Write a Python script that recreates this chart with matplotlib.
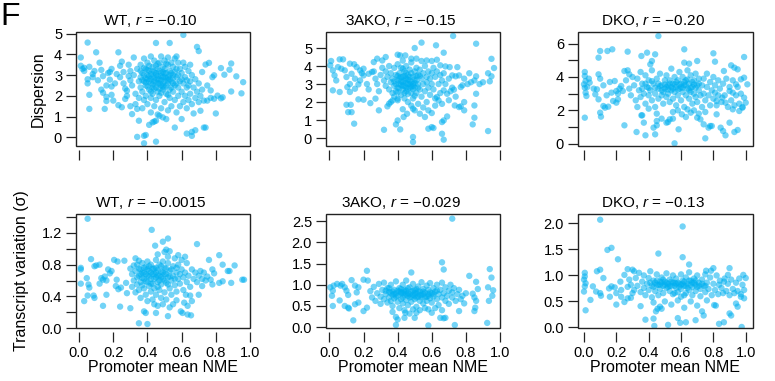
import numpy as np
import matplotlib
matplotlib.use("Agg")
import matplotlib.pyplot as plt
from matplotlib.patches import Rectangle

plt.rcParams['font.family'] = ['Liberation Sans', 'DejaVu Sans']
plt.rcParams['mathtext.fontset'] = 'custom'
plt.rcParams['mathtext.rm'] = 'Liberation Sans'
plt.rcParams['mathtext.it'] = 'Liberation Sans:italic'

# ---------------- data (x = promoter mean NME, y = value) ----------------
wt_disp = [
 (0.01,3.85),(0.01,3.45),(0.02,3.3),(0.03,3.2),(0.05,4.57),(0.06,3.4),(0.05,2.8),(0.05,2.6),(0.06,2.05),(0.06,1.37),
 (0.09,3.2),(0.08,3.05),(0.10,4.1),(0.11,2.75),(0.12,3.6),(0.13,3.25),(0.13,2.3),(0.14,2.15),(0.15,1.37),(0.16,1.75),
 (0.16,1.95),(0.16,2.5),(0.17,3.1),(0.18,2.78),(0.18,3.15),(0.19,2.45),(0.19,3.3),(0.20,1.77),(0.19,2.05),(0.21,2.6),
 (0.22,3.05),(0.23,4.1),(0.23,1.55),(0.14,2.95),(0.08,2.9),(0.03,3.35),
 (0.24,3.45),(0.25,3.65),(0.26,3.15),(0.24,2.9),(0.26,2.6),(0.27,2.35),(0.28,2.25),(0.25,1.45),(0.29,2.95),(0.29,3.5),
 (0.30,3.2),(0.30,2.75),(0.31,1.12),(0.31,2.5),(0.32,3.85),(0.32,3.0),(0.33,2.1),(0.33,1.6),(0.34,1.37),(0.34,0.02),
 (0.34,3.3),(0.35,0.8),(0.35,2.7),(0.35,1.9),(0.28,2.0),(0.27,1.85),(0.30,1.5),
 (0.36,3.5),(0.36,2.9),(0.36,2.4),(0.37,3.1),(0.37,2.2),(0.37,1.4),(0.38,3.8),(0.38,2.7),(0.38,1.8),(0.38,0.07),
 (0.38,-0.29),(0.39,3.3),(0.39,2.5),(0.39,2.0),(0.39,0.11),(0.40,3.0),(0.40,2.8),(0.40,1.6),(0.40,3.6),(0.41,2.3),
 (0.41,0.6),(0.41,3.2),(0.42,2.6),(0.42,1.9),(0.42,3.9),(0.42,1.2),(0.43,0.72),(0.43,2.9),(0.43,3.4),(0.43,2.1),
 (0.44,0.76),(0.44,2.7),(0.44,1.5),(0.44,3.7),(0.45,4.55),(0.45,0.8),(0.45,-0.21),(0.45,3.0),(0.45,2.4),(0.45,1.8),
 (0.46,3.3),(0.46,2.8),(0.46,2.2),(0.46,1.1),(0.47,1.04),(0.47,3.6),(0.47,2.6),(0.47,2.0),(0.48,3.1),(0.48,2.5),
 (0.48,1.4),(0.48,3.9),(0.49,0.96),(0.49,2.9),(0.49,2.3),(0.49,3.4),(0.50,3.7),(0.50,2.7),(0.50,1.7),(0.50,3.1),
 (0.51,0.88),(0.51,2.1),(0.51,2.5),(0.52,3.5),(0.52,2.9),(0.52,1.3),(0.52,3.85),(0.53,4.55),(0.53,2.3),(0.53,3.2),
 (0.53,1.9),(0.54,2.7),(0.54,3.6),(0.54,1.5),(0.55,3.0),(0.55,2.2),(0.55,3.4),(0.56,0.47),(0.56,2.5),(0.56,1.8),
 (0.56,3.8),(0.57,2.9),(0.57,1.2),(0.57,3.3),(0.58,2.4),(0.58,2.0),(0.58,3.6),(0.59,2.7),(0.59,1.5),(0.60,0.88),
 (0.60,3.1),(0.60,2.2),(0.61,4.94),(0.61,2.6),(0.61,1.7),(0.62,3.4),(0.62,2.0),(0.62,2.9),(0.63,0.18),(0.63,1.4),
 (0.63,2.4),(0.64,3.2),(0.64,1.8),(0.65,2.7),(0.65,2.1),(0.66,0.26),(0.66,0.07),(0.66,1.6),(0.66,3.0),(0.67,1.15),
 (0.67,2.4),(0.68,0.34),(0.68,1.9),(0.68,2.8),(0.69,4.36),(0.69,2.2),(0.70,4.16),(0.70,1.7),(0.70,2.6),(0.71,1.28),
 (0.71,2.0),(0.72,3.15),(0.72,2.3),(0.73,0.47),(0.73,1.77),(0.74,3.51),(0.74,0.47),(0.75,1.77),(0.75,2.5),(0.76,3.59),
 (0.77,1.9),(0.77,2.26),(0.78,2.9),(0.79,2.99),(0.79,1.86),(0.80,1.15),(0.81,2.01),(0.83,3.34),(0.83,1.88),(0.84,1.93),
 (0.85,3.02),(0.88,3.26),(0.89,3.56),(0.89,2.21),(0.92,2.94),(0.95,2.12),(0.96,2.66),
 (0.37,2.75),(0.39,2.85),(0.40,2.45),(0.41,2.7),(0.41,3.45),(0.42,3.05),(0.43,2.55),(0.44,3.15),(0.44,2.35),(0.45,2.65),
 (0.46,2.95),(0.46,3.55),(0.47,2.35),(0.47,3.2),(0.48,2.75),(0.49,2.6),(0.50,2.4),(0.50,3.3),(0.51,2.85),(0.51,3.55),
 (0.52,2.6),(0.53,2.8),(0.54,3.1),(0.54,2.4),(0.55,2.85),(0.57,2.6),(0.58,3.0),(0.60,2.8),(0.36,3.2),(0.38,3.35),
 (0.42,2.2),(0.48,2.15),(0.52,2.05),(0.56,3.15),(0.59,3.3),(0.63,2.75),(0.64,2.5),(0.61,3.6),(0.57,3.9),(0.65,3.5),
 (0.38,3.0),(0.39,2.65),(0.40,3.25),(0.41,2.95),(0.42,2.8),(0.43,3.2),(0.44,2.85),(0.45,3.1),(0.46,2.6),(0.47,2.8),
 (0.48,2.95),(0.49,3.15),(0.50,2.9),(0.51,3.1),(0.52,2.75),(0.53,3.0),(0.45,3.45),(0.43,2.4),(0.49,2.45),(0.55,2.6),
]

ako_disp = [
 (0.725,5.67),(0.54,5.3),(0.86,5.24),(0.50,5.0),(0.625,5.15),(0.67,4.74),(0.95,4.4),(0.965,3.89),(0.93,3.6),(0.95,3.43),
 (0.94,3.15),(0.86,3.43),(0.85,3.2),(0.83,3.1),(0.81,3.0),(0.86,2.46),(0.85,1.81),(0.85,1.13),(0.84,0.76),(0.93,0.39),
 (0.79,1.54),(0.77,1.76),(0.76,1.72),(0.79,2.0),(0.735,1.81),(0.69,1.2),(0.66,0.89),(0.67,0.98),(0.60,0.61),(0.61,0.56),
 (0.58,0.52),(0.66,0.24),(0.67,-0.09),(0.49,0.06),(0.49,-0.22),(0.32,0.46),(0.415,0.48),(0.39,0.76),(0.40,0.98),(0.435,1.17),
 (0.455,1.35),(0.49,1.63),(0.50,1.54),(0.53,1.35),(0.56,1.17),(0.58,1.54),(0.60,1.39),(0.29,1.54),(0.34,1.76),(0.35,1.91),
 (0.37,2.09),(0.40,2.19),(0.27,2.19),(0.24,1.94),(0.17,2.15),(0.20,2.13),(0.145,0.8),(0.11,1.44),(0.13,1.44),(0.10,1.85),
 (0.125,1.85),(0.06,2.56),(0.02,2.65),(0.105,2.83),(0.12,3.0),(0.12,2.56),(0.15,2.74),(0.17,2.98),(0.18,3.2),(0.01,4.28),
 (0.005,4.04),(0.02,3.76),(0.03,3.48),(0.04,3.2),(0.06,4.37),(0.08,4.37),(0.05,3.94),(0.07,3.85),(0.09,3.76),(0.12,4.13),
 (0.145,4.1),(0.16,3.94),(0.10,3.39),(0.13,3.57),(0.18,3.76),(0.20,3.85),(0.20,3.48),(0.23,3.57),(0.25,3.67),(0.26,4.22),
 (0.28,4.41),(0.31,4.31),(0.33,4.5),(0.40,4.63),(0.415,4.59),(0.445,4.59),(0.48,4.41),(0.51,4.41),(0.54,4.28),(0.57,4.31),
 (0.60,4.28),(0.63,4.35),(0.65,4.04),(0.68,3.98),(0.705,3.94),(0.75,3.94),(0.72,3.48),(0.74,3.43),(0.76,3.48),(0.77,2.83),
 (0.78,2.93),(0.72,2.8),(0.73,2.69),(0.67,2.65),(0.69,2.46),(0.63,2.28),(0.64,2.09),(0.66,3.2),
 (0.30,3.5),(0.31,3.9),(0.32,3.2),(0.33,3.7),(0.33,2.9),(0.34,3.4),(0.35,4.0),(0.35,2.7),(0.36,3.1),(0.36,3.6),
 (0.37,2.5),(0.37,3.3),(0.38,3.9),(0.38,2.9),(0.39,3.5),(0.39,2.6),(0.40,3.2),(0.40,4.1),(0.40,2.8),(0.41,3.6),
 (0.41,3.0),(0.42,2.4),(0.42,3.4),(0.42,3.9),(0.43,2.7),(0.43,3.1),(0.43,4.3),(0.44,3.7),(0.44,2.9),(0.44,2.2),
 (0.45,3.3),(0.45,2.6),(0.45,4.0),(0.46,3.5),(0.46,3.0),(0.46,2.0),(0.47,3.8),(0.47,2.8),(0.47,3.2),(0.48,3.6),
 (0.48,2.5),(0.48,4.2),(0.49,3.4),(0.49,3.0),(0.49,2.2),(0.50,3.7),(0.50,2.8),(0.51,3.2),(0.51,3.9),(0.51,2.5),
 (0.52,3.5),(0.52,3.0),(0.53,3.8),(0.53,2.7),(0.54,3.3),(0.54,2.3),(0.55,3.6),(0.55,3.0),(0.56,4.0),(0.56,2.6),
 (0.57,3.4),(0.57,3.1),(0.58,3.7),(0.58,2.8),(0.59,3.3),(0.59,2.4),(0.60,3.6),(0.60,3.0),(0.61,3.9),(0.61,2.7),
 (0.62,3.4),(0.62,2.2),(0.63,3.7),(0.64,3.0),(0.65,3.5),(0.65,2.5),(0.67,3.6),(0.68,3.0),(0.70,3.3),(0.71,2.6),
 (0.27,3.3),(0.28,3.0),(0.29,2.6),(0.26,3.7),(0.22,3.0),(0.23,2.7),(0.19,3.6),(0.15,3.3),(0.38,2.3),(0.40,2.1),
 (0.36,2.0),(0.52,1.9),(0.55,1.7),(0.48,1.8),(0.43,1.6),(0.57,2.0),(0.62,1.8),(0.66,1.9),(0.70,2.1),(0.74,2.3),
 (0.79,3.3),(0.82,3.6),(0.88,3.0),(0.90,3.1),(0.44,3.45),(0.47,3.0),(0.50,3.25),(0.53,3.45),(0.41,3.3),(0.45,2.8),
 (0.49,2.7),(0.38,3.15),(0.42,2.95),(0.46,2.45),(0.50,2.35),(0.43,3.85),(0.40,2.55),(0.44,2.5),
 (0.39,3.0),(0.41,2.75),(0.42,3.15),(0.43,2.9),(0.44,3.2),(0.45,3.05),(0.46,2.75),(0.47,3.4),(0.48,3.1),(0.49,2.9),
 (0.50,3.05),(0.51,3.45),(0.52,2.8),(0.43,3.4),(0.46,3.25),(0.40,3.45),(0.48,2.85),(0.45,3.6),
]

dko_disp = [
 (0.46,6.46),(0.10,5.56),(0.09,5.16),(0.145,5.56),(0.175,5.66),(0.27,5.52),(0.62,5.66),(0.80,5.42),(0.99,5.2),(0.39,5.46),
 (0.355,5.26),(0.44,5.36),(0.42,4.96),(0.41,4.76),(0.62,4.86),(0.65,4.8),(0.70,4.96),(0.81,4.92),(0.91,4.7),(0.93,4.56),
 (0.95,4.46),(0.865,4.36),(0.005,4.3),(0.005,4.06),(0.01,3.76),(0.0,3.56),(0.005,3.36),(0.01,3.06),(0.015,2.86),(0.035,3.66),
 (0.005,1.56),(0.09,4.16),(0.10,3.9),(0.08,3.26),(0.07,2.96),(0.09,2.66),(0.10,1.86),(0.105,1.62),(0.12,2.26),(0.13,2.16),
 (0.15,2.22),(0.16,3.7),(0.19,3.76),(0.17,3.06),(0.20,3.16),(0.21,2.66),(0.18,2.56),(0.20,2.46),(0.23,3.46),(0.24,3.16),
 (0.25,4.36),(0.27,4.4),(0.28,4.16),(0.25,1.1),(0.325,0.7),(0.38,0.5),(0.355,1.7),(0.37,1.26),(0.44,0.56),(0.43,0.96),
 (0.45,1.1),(0.45,1.36),(0.51,1.26),(0.53,1.46),(0.55,1.5),(0.56,0.02),(0.585,0.86),(0.605,1.76),(0.64,2.06),(0.66,1.86),
 (0.70,1.56),(0.72,1.46),(0.74,1.16),(0.77,0.96),(0.79,1.06),(0.75,0.32),(0.78,1.06),(0.845,0.96),(0.86,0.76),(0.875,0.5),
 (0.90,1.26),(0.93,0.7),(0.95,0.82),(0.82,1.76),(0.92,2.06),(0.96,1.96),(0.98,2.16),(0.99,2.76),(1.0,2.46),(1.01,3.56),
 (0.97,3.86),(0.99,3.96),(0.94,3.56),(0.90,3.16),(0.92,3.06),(0.855,2.76),(0.875,2.46),(0.81,3.06),(0.82,2.56),
 (0.26,3.8),(0.28,3.3),(0.29,2.9),(0.30,4.0),(0.31,3.5),(0.32,2.6),(0.33,3.9),(0.34,3.2),(0.35,4.3),(0.35,2.8),
 (0.36,3.6),(0.37,3.0),(0.38,4.1),(0.38,2.4),(0.39,3.4),(0.40,3.8),(0.40,2.9),(0.41,3.2),(0.42,4.4),(0.42,2.6),
 (0.43,3.6),(0.44,3.0),(0.44,2.2),(0.45,3.9),(0.46,3.3),(0.46,2.7),(0.47,4.2),(0.48,3.5),(0.48,2.9),(0.49,3.1),
 (0.49,2.4),(0.50,3.8),(0.50,3.3),(0.51,2.8),(0.51,4.1),(0.52,3.5),(0.52,3.0),(0.53,2.5),(0.53,3.8),(0.54,3.2),
 (0.54,4.5),(0.55,2.7),(0.55,3.6),(0.56,3.1),(0.56,4.0),(0.57,2.3),(0.57,3.4),(0.58,3.8),(0.58,2.9),(0.59,3.3),
 (0.59,4.3),(0.60,3.6),(0.60,2.6),(0.61,3.1),(0.61,4.0),(0.62,3.5),(0.62,2.2),(0.63,3.8),(0.63,2.9),(0.64,3.3),
 (0.64,4.4),(0.65,2.7),(0.65,3.6),(0.66,3.1),(0.66,4.1),(0.67,3.4),(0.67,2.4),(0.68,3.8),(0.68,3.0),(0.69,2.8),
 (0.69,4.2),(0.70,3.5),(0.70,2.5),(0.71,3.2),(0.71,3.9),(0.72,2.9),(0.73,3.5),(0.73,2.2),(0.74,3.9),(0.74,3.0),
 (0.75,2.6),(0.76,3.4),(0.76,4.2),(0.77,2.9),(0.78,3.7),(0.78,2.3),(0.79,3.2),(0.80,2.7),(0.80,4.0),(0.81,3.5),
 (0.82,2.3),(0.83,3.8),(0.83,2.9),(0.84,3.3),(0.85,2.5),(0.86,3.6),(0.87,2.9),(0.88,3.9),(0.89,2.2),(0.90,3.4),
 (0.91,2.6),(0.92,3.8),(0.93,2.3),(0.94,2.9),(0.95,3.4),(0.96,2.4),(0.97,3.0),(0.98,2.2),(0.22,3.3),(0.21,3.0),
 (0.14,2.9),(0.12,3.5),(0.06,3.3),(0.03,3.9),(0.02,3.4),(0.52,1.3),(0.48,1.5),(0.45,1.8),(0.40,2.1),(0.33,2.2),
 (0.36,1.7),(0.55,1.9),(0.58,2.0),(0.63,1.6),(0.68,2.0),(0.71,1.8),(0.75,1.9),(0.54,3.4),(0.56,3.55),(0.58,3.25),
 (0.60,3.4),(0.62,3.7),(0.50,3.55),(0.52,3.25),(0.46,3.6),(0.44,3.35),(0.66,3.35),(0.68,3.55),(0.64,3.85),(0.48,3.2),
 (0.36,3.3),(0.38,3.6),(0.40,3.35),(0.42,3.75),(0.53,3.6),(0.57,3.7),(0.59,3.55),(0.61,3.35),(0.63,3.5),(0.65,3.2),
 (0.67,3.7),(0.69,3.35),(0.71,3.6),(0.55,3.3),(0.51,3.4),(0.47,3.45),
]

wt_sigma = [
 (0.05,1.38),(0.425,1.24),(0.52,1.13),(0.49,1.09),(0.445,1.04),(0.51,0.99),(0.53,0.97),(0.69,1.06),(0.82,0.92),(0.91,0.79),
 (0.84,0.80),(0.88,0.72),(0.87,0.72),(0.965,0.61),(0.955,0.61),(0.76,0.86),(0.78,0.74),(0.79,0.69),(0.75,0.65),(0.77,0.61),
 (0.78,0.55),(0.82,0.57),(0.84,0.59),(0.89,0.57),(0.72,0.53),(0.70,0.42),(0.625,0.42),(0.65,0.41),(0.66,0.34),(0.615,0.32),
 (0.635,0.28),(0.595,0.21),(0.605,0.19),(0.635,0.17),(0.655,0.16),(0.52,0.15),(0.45,0.19),(0.46,0.28),(0.38,0.21),(0.39,0.19),
 (0.35,0.06),(0.40,0.05),(0.30,0.25),(0.24,0.27),(0.14,0.28),(0.09,0.38),(0.085,0.41),(0.05,0.41),(0.03,0.34),(0.01,0.74),
 (0.01,0.76),(0.01,0.56),(0.045,0.63),(0.055,0.55),(0.06,0.51),(0.07,0.87),(0.09,0.78),(0.10,0.79),(0.12,0.80),(0.13,0.63),
 (0.14,0.61),(0.12,0.56),(0.15,0.65),(0.16,0.60),(0.17,0.74),(0.18,0.69),(0.19,0.72),(0.16,0.42),(0.205,0.86),(0.225,0.84),
 (0.215,0.53),(0.23,0.49),(0.245,0.51),(0.22,0.61),(0.265,0.85),(0.275,0.57),(0.28,0.44),(0.33,0.88),(0.35,0.85),
 (0.30,0.75),(0.31,0.68),(0.31,0.52),(0.32,0.79),(0.32,0.60),(0.33,0.72),(0.33,0.45),(0.34,0.55),(0.34,0.80),(0.35,0.66),
 (0.35,0.48),(0.36,0.74),(0.36,0.38),(0.36,0.58),(0.37,0.82),(0.37,0.63),(0.38,0.50),(0.38,0.70),(0.39,0.77),(0.39,0.42),
 (0.39,0.59),(0.40,0.66),(0.40,0.84),(0.40,0.34),(0.41,0.53),(0.41,0.72),(0.42,0.62),(0.42,0.46),(0.42,0.80),(0.43,0.68),
 (0.43,0.36),(0.43,0.56),(0.44,0.75),(0.44,0.50),(0.45,0.64),(0.45,0.86),(0.45,0.42),(0.46,0.58),(0.46,0.73),(0.47,0.48),
 (0.47,0.80),(0.47,0.66),(0.48,0.55),(0.48,0.38),(0.48,0.71),(0.49,0.62),(0.49,0.84),(0.50,0.45),(0.50,0.68),(0.50,0.76),
 (0.51,0.57),(0.51,0.36),(0.52,0.64),(0.52,0.82),(0.53,0.50),(0.53,0.72),(0.54,0.60),(0.54,0.42),(0.55,0.78),(0.55,0.66),
 (0.56,0.54),(0.56,0.88),(0.57,0.70),(0.57,0.46),(0.58,0.62),(0.58,0.80),(0.59,0.56),(0.60,0.74),(0.60,0.86),(0.61,0.64),
 (0.61,0.48),(0.62,0.70),(0.63,0.58),(0.63,0.82),(0.64,0.66),(0.65,0.52),(0.66,0.74),(0.67,0.62),(0.68,0.70),(0.69,0.58),
 (0.70,0.66),(0.71,0.72),(0.72,0.62),(0.73,0.70),(0.74,0.60),(0.55,0.30),(0.53,0.26),(0.49,0.30),(0.57,0.35),(0.44,0.30),
 (0.46,0.93),(0.50,0.96),(0.52,0.90),(0.58,0.92),(0.62,0.90),(0.35,0.75),(0.37,0.70),(0.41,0.65),(0.43,0.75),(0.45,0.70),
 (0.47,0.60),(0.49,0.70),(0.51,0.75),(0.53,0.65),(0.38,0.62),(0.44,0.62),(0.46,0.66),(0.52,0.55),(0.40,0.74),(0.34,0.64),
 (0.56,0.62),(0.59,0.68),(0.48,0.78),
 (0.36,0.68),(0.38,0.76),(0.39,0.68),(0.41,0.78),(0.42,0.70),(0.44,0.68),(0.45,0.76),(0.46,0.52),(0.48,0.64),(0.50,0.60),
 (0.51,0.68),(0.54,0.74),(0.57,0.76),(0.42,0.56),(0.40,0.58),(0.37,0.54),
]

ako_sigma = [
 (0.72,2.56),(0.66,1.53),(0.67,1.36),(0.22,1.33),(0.48,1.29),(0.82,1.21),(0.94,1.37),(0.95,1.17),(0.86,1.07),(0.87,0.90),
 (0.93,0.94),(0.96,0.87),(0.955,0.74),(0.935,0.62),(0.925,0.10),(0.84,0.79),(0.85,0.70),(0.86,0.62),(0.855,0.46),(0.85,0.38),
 (0.76,0.38),(0.735,0.05),(0.58,0.04),(0.39,0.05),(0.39,0.24),(0.40,0.18),(0.445,0.34),(0.44,0.22),(0.50,0.22),(0.51,0.34),
 (0.65,0.22),(0.67,0.21),(0.68,0.22),(0.60,0.34),(0.58,0.42),(0.14,0.16),(0.20,0.38),(0.22,0.46),(0.15,0.54),(0.17,0.58),
 (0.09,0.5),(0.11,0.46),(0.115,0.44),(0.06,0.63),(0.02,0.5),(0.015,0.74),(0.02,0.86),(0.005,0.94),(0.025,0.98),(0.045,1.02),
 (0.065,0.98),(0.075,1.02),(0.09,0.94),(0.10,0.86),(0.11,0.76),(0.13,1.11),(0.15,0.98),(0.17,0.94),(0.16,0.82),(0.20,1.12),
 (0.225,1.10),
 (0.24,0.85),(0.25,0.70),(0.26,0.95),(0.27,0.62),(0.28,0.80),(0.29,1.02),(0.30,0.72),(0.30,0.55),(0.31,0.88),(0.32,0.66),
 (0.32,1.05),(0.33,0.78),(0.34,0.58),(0.34,0.92),(0.35,0.70),(0.35,0.83),(0.36,1.00),(0.36,0.62),(0.37,0.76),(0.37,0.50),
 (0.38,0.88),(0.38,0.68),(0.39,0.80),(0.39,1.08),(0.40,0.60),(0.40,0.74),(0.41,0.92),(0.41,0.45),(0.42,0.82),(0.42,0.66),
 (0.43,1.00),(0.43,0.56),(0.44,0.76),(0.44,0.88),(0.45,0.64),(0.45,1.10),(0.46,0.80),(0.46,0.52),(0.47,0.94),(0.47,0.70),
 (0.48,0.84),(0.48,0.60),(0.49,0.76),(0.49,1.02),(0.50,0.66),(0.50,0.88),(0.51,0.48),(0.51,0.80),(0.52,0.72),(0.52,0.96),
 (0.53,0.62),(0.53,0.84),(0.54,0.76),(0.54,1.06),(0.55,0.56),(0.55,0.90),(0.56,0.70),(0.56,0.82),(0.57,0.98),(0.57,0.62),
 (0.58,0.78),(0.58,0.88),(0.59,0.68),(0.59,1.04),(0.60,0.80),(0.60,0.58),(0.61,0.92),(0.61,0.72),(0.62,0.84),(0.63,0.66),
 (0.63,1.00),(0.64,0.78),(0.64,0.52),(0.65,0.88),(0.66,0.70),(0.66,1.05),(0.67,0.80),(0.68,0.62),(0.68,0.94),(0.69,0.74),
 (0.70,0.86),(0.70,0.55),(0.71,1.00),(0.72,0.70),(0.72,0.82),(0.73,0.92),(0.74,0.62),(0.75,0.78),(0.76,0.88),(0.77,0.66),
 (0.78,0.74),(0.79,0.56),(0.80,0.80),(0.44,0.40),(0.47,0.32),(0.49,0.42),(0.53,0.40),(0.37,0.36),(0.56,0.45),(0.62,0.45),
 (0.66,0.40),(0.42,0.80),(0.46,0.74),(0.50,0.80),(0.52,0.84),(0.48,0.72),(0.44,0.84),(0.40,0.86),(0.54,0.70),(0.58,0.74),
 (0.36,0.80),(0.45,0.78),(0.51,0.90),(0.43,0.70),(0.55,0.78),
 (0.33,0.86),(0.35,0.92),(0.37,0.84),(0.39,0.72),(0.41,0.84),(0.43,0.80),(0.45,0.86),(0.47,0.78),(0.49,0.86),(0.51,0.70),
 (0.53,0.76),(0.55,0.84),(0.57,0.72),(0.59,0.82),(0.61,0.78),(0.63,0.86),(0.46,0.92),(0.42,0.90),(0.38,0.78),(0.50,0.74),
]

dko_sigma = [
 (0.10,2.07),(0.61,1.94),(0.145,1.49),(0.17,1.53),(0.21,1.31),(0.46,1.42),(0.61,1.35),(0.65,1.21),(0.005,1.05),(0.005,0.98),
 (0.0,0.92),(0.01,0.85),(0.005,0.79),(0.0,0.69),(0.01,0.33),(0.04,0.53),(0.08,1.08),(0.10,1.11),(0.12,0.95),(0.075,0.69),
 (0.10,0.66),(0.105,0.61),(0.055,0.79),(0.155,0.75),(0.17,0.79),(0.19,0.77),(0.16,0.59),(0.20,0.44),(0.23,0.59),(0.25,0.49),
 (0.225,0.88),(0.25,1.01),(0.27,1.12),(0.30,1.11),(0.31,1.08),(0.29,0.82),(0.31,0.72),(0.27,0.56),(0.29,0.57),(0.35,0.41),
 (0.38,0.15),(0.43,0.17),(0.435,0.03),(0.445,0.31),(0.455,0.36),(0.48,0.36),(0.52,0.05),(0.58,0.18),(0.595,0.09),(0.62,0.38),
 (0.63,0.10),(0.69,0.14),(0.73,0.31),(0.74,0.23),(0.805,0.43),(0.815,0.42),(0.835,0.07),(0.865,0.10),(0.90,0.27),(0.91,0.23),
 (0.95,0.40),(0.94,0.46),(0.975,0.01),(0.97,0.59),(0.99,0.56),(0.99,0.72),(1.0,0.95),(0.985,1.01),(0.90,1.14),(0.89,1.01),
 (0.80,1.14),(0.785,1.09),(0.755,1.09),(0.835,0.82),(0.865,0.88),(0.56,0.66),(0.60,0.59),(0.62,0.62),
 (0.32,0.95),(0.33,0.80),(0.34,1.05),(0.35,0.68),(0.36,0.88),(0.37,0.76),(0.37,1.00),(0.38,0.62),(0.39,0.84),(0.40,0.95),
 (0.40,0.72),(0.41,1.08),(0.42,0.80),(0.42,0.58),(0.43,0.90),(0.44,0.70),(0.45,0.82),(0.45,1.02),(0.46,0.62),(0.47,0.88),
 (0.47,0.74),(0.48,0.96),(0.49,0.80),(0.49,0.66),(0.50,0.88),(0.51,0.76),(0.51,1.04),(0.52,0.84),(0.53,0.70),(0.53,0.92),
 (0.54,0.80),(0.55,1.00),(0.55,0.64),(0.56,0.86),(0.57,0.76),(0.57,0.94),(0.58,0.68),(0.59,0.84),(0.60,1.02),(0.60,0.74),
 (0.61,0.90),(0.62,0.80),(0.63,0.66),(0.63,0.96),(0.64,0.84),(0.65,0.72),(0.65,1.06),(0.66,0.90),(0.67,0.78),(0.67,0.62),
 (0.68,0.94),(0.69,0.82),(0.69,0.70),(0.70,1.00),(0.71,0.86),(0.72,0.74),(0.72,0.60),(0.73,0.92),(0.74,0.80),(0.75,0.68),
 (0.75,1.02),(0.76,0.86),(0.77,0.74),(0.78,0.96),(0.79,0.62),(0.80,0.84),(0.81,0.72),(0.82,1.00),(0.83,0.64),(0.84,0.90),
 (0.85,0.76),(0.86,0.66),(0.87,0.94),(0.88,0.70),(0.89,0.84),(0.90,0.62),(0.91,0.92),(0.92,0.74),(0.93,0.66),(0.94,0.86),
 (0.95,0.70),(0.96,0.94),(0.97,0.64),(0.98,0.82),(0.27,0.78),(0.28,0.92),(0.30,0.66),(0.23,0.72),(0.20,0.66),(0.43,0.48),
 (0.47,0.40),(0.50,0.50),(0.54,0.44),(0.58,0.52),(0.66,0.50),(0.70,0.42),(0.76,0.52),(0.46,0.82),(0.48,0.86),(0.52,0.78),
 (0.56,0.80),(0.58,0.86),(0.62,0.88),(0.64,0.76),(0.66,0.82),(0.68,0.86),(0.70,0.78),(0.60,0.82),(0.54,0.88),(0.50,0.82),
 (0.44,0.86),
 (0.41,0.86),(0.43,0.78),(0.45,0.90),(0.47,0.82),(0.49,0.92),(0.51,0.86),(0.53,0.80),(0.55,0.86),(0.57,0.84),(0.59,0.78),
 (0.61,0.84),(0.63,0.80),(0.65,0.90),(0.67,0.86),(0.69,0.90),(0.71,0.80),(0.73,0.84),(0.75,0.80),
]

titles = ["WT", "3AKO", "DKO", "WT", "3AKO", "DKO"]
r_values = ["\u22120.10", "\u22120.15", "\u22120.20", "\u22120.0015", "\u22120.029", "\u22120.13"]
x_ticks = [0.0, 0.2, 0.4, 0.6, 0.8, 1.0]
x_ticklabels = ["0.0", "0.2", "0.4", "0.6", "0.8", "1.0"]
y_ticks = [[0, 1, 2, 3, 4, 5], [0, 1, 2, 3, 4, 5], [0, 1, 2, 3, 4, 5, 6],
           [0.0, 0.2, 0.4, 0.6, 0.8, 1.0, 1.2, 1.4], [0.0, 0.5, 1.0, 1.5, 2.0, 2.5], [0.0, 0.5, 1.0, 1.5, 2.0]]
y_ticklabels = [["0", "1", "2", "3", "4", "5"], ["0", "1", "2", "3", "4", "5"],
                ["0", "", "2", "", "4", "", "6"],
                ["0.0", "", "0.4", "", "0.8", "", "1.2", ""],
                ["0.0", "0.5", "1.0", "1.5", "2.0", "2.5"],
                ["0.0", "0.5", "1.0", "1.5", "2.0"]]
ylims = [(-0.42, 5.08), (-0.44, 5.89), (-0.14, 6.7), (0.0, 1.44), (-0.02, 2.67), (-0.01, 2.18)]
xlims = [(-0.018, 1.0), (-0.02, 1.0), (-0.037, 1.045), (-0.018, 1.0), (-0.02, 1.0), (-0.037, 1.045)]
datasets = [wt_disp, ako_disp, dko_disp, wt_sigma, ako_sigma, dko_sigma]

# ---------------- figure ----------------
W, H = 775, 381
fig = plt.figure(figsize=(W / 100, H / 100), dpi=100)

col_px = [(76, 250), (326, 500), (578, 753)]
row_px = [(32, 146), (214, 328)]

point_color = (0.0, 0.69, 0.94)
for i in range(6):
    r, c = divmod(i, 3)
    x0, x1 = col_px[c]
    y0, y1 = row_px[r]
    ax = fig.add_axes([x0 / W, 1 - y1 / H, (x1 - x0) / W, (y1 - y0) / H])
    pts = np.array(datasets[i])
    ax.scatter(pts[:, 0], pts[:, 1], s=21, color=point_color, alpha=0.55,
               edgecolors='none', zorder=2)
    ax.set_xlim(*xlims[i])
    ax.set_ylim(*ylims[i])

    for s in ['top', 'right', 'left', 'bottom']:
        ax.spines[s].set_visible(False)
    ax.spines['bottom'].set_position(('outward', 3))
    ax.add_patch(Rectangle((0, 0), 1, 1, transform=ax.transAxes, fill=False,
                           lw=1.0, edgecolor='#222222', clip_on=False, zorder=5))

    ax.set_xticks(x_ticks)
    if r == 1:
        ax.set_xticklabels(x_ticklabels)
    else:
        ax.set_xticklabels([])
    ax.set_yticks(y_ticks[i])
    ax.set_yticklabels(y_ticklabels[i])
    ax.tick_params(axis='both', direction='out', length=7, width=0.9,
                   color='#222222', labelsize=10.5, labelcolor='black')
    ax.tick_params(axis='x', pad=3)
    ax.tick_params(axis='y', pad=3)

    ax.annotate(f"{titles[i]}, $r$ = {r_values[i]}", xy=(0.43, 1.0),
                xycoords='axes fraction', xytext=(0, 5), textcoords='offset points',
                ha='center', va='baseline', fontsize=11)

    if r == 1:
        cx = (x0 + x1) / 2 / W
        fig.text(cx, 1 - 367 / H, "Promoter mean NME", ha='center', va='center', fontsize=11.5)

fig.text(38 / W, 1 - 89 / H, "Dispersion", rotation=90, ha='center', va='center', fontsize=11.5)
fig.text(22 / W, 1 - 271 / H, "Transcript variation (\u03c3)", rotation=90, ha='center',
         va='center', fontsize=11.5)
fig.text(0 / W, 1 - 2 / H, "F", ha='left', va='top', fontsize=23)

fig.savefig("out.png", dpi=100)
